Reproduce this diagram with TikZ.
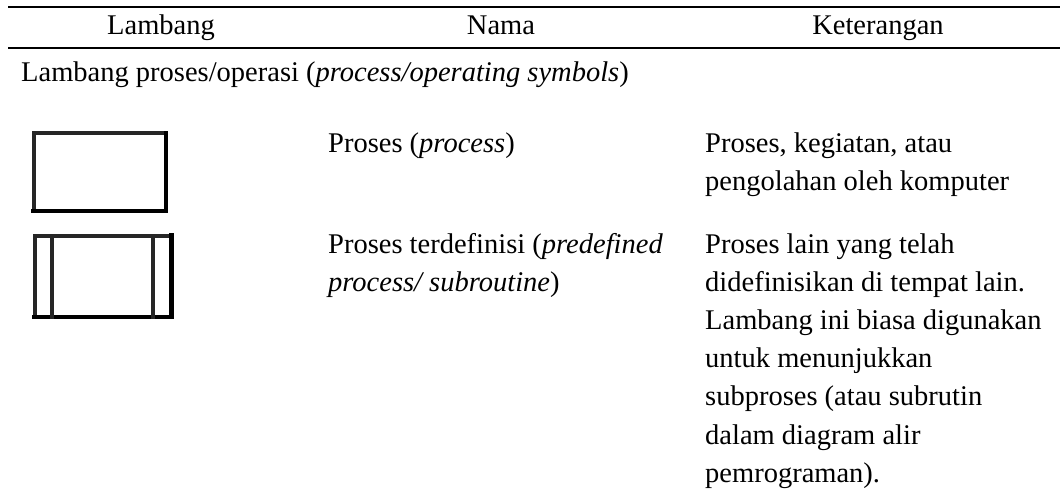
\documentclass[tikz,border=0pt]{standalone}
\usepackage{fontspec}
\setmainfont{Liberation Serif}
\begin{document}
\begin{tikzpicture}[x=1pt,y=-1pt,
  txt/.style={inner sep=0pt, anchor=base west, font=\fontsize{28.5}{38.2}\selectfont},
  hdr/.style={inner sep=0pt, anchor=base, font=\fontsize{28.5}{38.2}\selectfont},
  rulebar/.style={line width=2.8pt},
  symb/.style={line width=4pt, draw=black!85, line cap=rect},
  symbdark/.style={line width=4.6pt, draw=black, line cap=rect}]
\useasboundingbox (0,0) rectangle (1060,492);
% rules
\coordinate (r1a) at (8,7); \coordinate (r1b) at (1060,7);
\coordinate (r2a) at (8,48); \coordinate (r2b) at (1060,48);
\draw[rulebar] (r1a) -- (r1b);
\draw[rulebar] (r2a) -- (r2b);
% header
\node[hdr] (h1) at (161,35) {Lambang};
\node[hdr] (h2) at (501,35) {Nama};
\node[hdr] (h3) at (878,35) {Keterangan};
% section title
\node[txt] (sec) at (21,82) {Lambang proses/operasi (\textit{process/operating symbols})};
% symbol 1
\draw[symb] (33.5,133.5) rectangle (166,211);
\draw[symbdark] (166,133.5) -- (166,211) -- (33.5,211);
% symbol 2
\draw[symb] (34.5,235.5) rectangle (171.5,317);
\draw[symbdark] (171.5,235.5) -- (171.5,317) -- (34.5,317);
\draw[symb] (52,235.5) -- (52,317);
\draw[symb] (153,235.5) -- (153,317);
% names
\node[txt] (n1) at (328,153) {Proses (\textit{process})};
\node[txt] (n2a) at (328,253) {Proses terdefinisi (\textit{predefined}};
\node[txt] (n2b) at (328,291.2) {\textit{process/ subroutine})};
% descriptions
\node[txt] (d1a) at (705,153) {Proses, kegiatan, atau};
\node[txt] (d1b) at (705,190.5) {pengolahan oleh komputer};
\node[txt] (d2a) at (705,253) {Proses lain yang telah};
\node[txt] (d2b) at (705,291.2) {didefinisikan di tempat lain.};
\node[txt] (d2c) at (705,329.4) {Lambang ini biasa digunakan};
\node[txt] (d2d) at (705,367.6) {untuk menunjukkan};
\node[txt] (d2e) at (705,405.8) {subproses (atau subrutin};
\node[txt] (d2f) at (705,444) {dalam diagram alir};
\node[txt] (d2g) at (705,482.2) {pemrograman).};
\end{tikzpicture}
\end{document}
